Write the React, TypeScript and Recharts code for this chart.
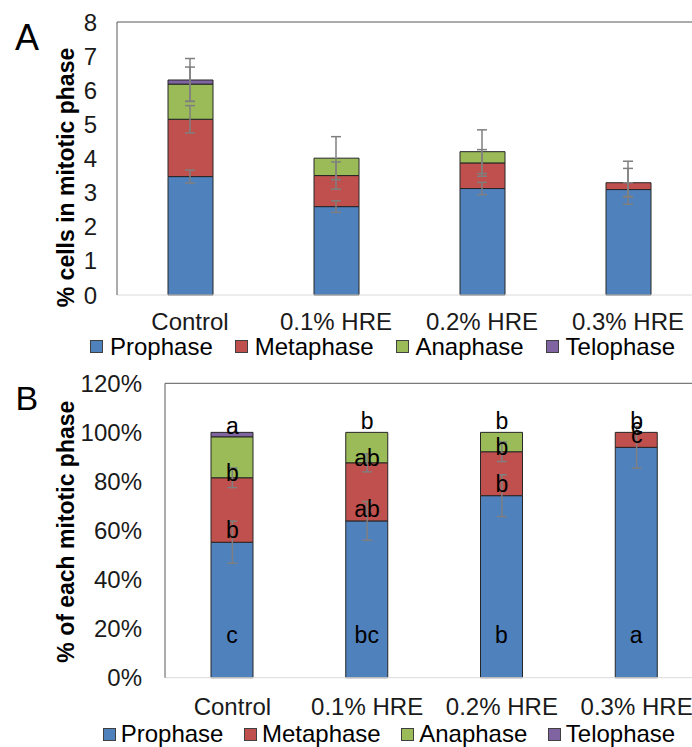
import { ComposedChart, Bar, Line, XAxis, YAxis, Legend, ReferenceLine, ErrorBar, LabelList, Label } from 'recharts';

const FONT = '"Liberation Sans", Arial, sans-serif';

const COLORS = {
  prophase: '#4F81BD',
  metaphase: '#C0504D',
  anaphase: '#9BBB59',
  telophase: '#8064A2',
};

const phaseNames = ['Prophase', 'Metaphase', 'Anaphase', 'Telophase'];
const categories = ['Control', '0.1% HRE', '0.2% HRE', '0.3% HRE'];

// Panel A: % cells in mitotic phase
const cellsProphase = [3.47, 2.59, 3.12, 3.09];
const cellsMetaphase = [1.68, 0.91, 0.75, 0.2];
const cellsAnaphase = [1.03, 0.51, 0.33, 0];
const cellsTelophase = [0.12, 0, 0, 0];
const cellsErrProphase = [0.19, 0.17, 0.18, 0.2];
const cellsErrMetaphase = [0.4, 0.4, 0.39, 0.42];
const cellsErrAnaphase = [0.5, 0.63, 0.64, 0.63];
const cellsErrTelophase = [0.63, 0, 0, 0];
const ticksA = [0, 1, 2, 3, 4, 5, 6, 7, 8];

// Panel B: % of each mitotic phase
const shareProphase = [55.2, 63.9, 74.2, 93.9];
const shareMetaphase = [26.3, 23.7, 17.9, 6.1];
const shareAnaphase = [16.7, 12.4, 7.9, 0];
const shareTelophase = [1.8, 0, 0, 0];
const shareErrProphase = [8.6, 7.9, 8.5, 8.5];
const shareErrMetaphase = [4, 3.7, 4, 0];
const lettersProphase = ['c', 'bc', 'b', 'a'];
const lettersMetaphase = ['b', 'ab', 'b', 'c'];
const lettersAnaphase = ['b', 'ab', 'b', 'c'];
const lettersTelophase = ['a', 'b', 'b', 'b'];
const ticksB = [0, 20, 40, 60, 80, 100, 120];

const nz = (v: number) => (v ? v : null);

const dataA = categories.map((name, i) => {
  const c1 = cellsProphase[i];
  const c2 = c1 + cellsMetaphase[i];
  const c3 = c2 + cellsAnaphase[i];
  const c4 = c3 + cellsTelophase[i];
  return {
    name,
    pro: cellsProphase[i],
    meta: cellsMetaphase[i],
    ana: cellsAnaphase[i],
    telo: cellsTelophase[i],
    c1, c2, c3, c4,
    e1: nz(cellsErrProphase[i]),
    e2: nz(cellsErrMetaphase[i]),
    e3: nz(cellsErrAnaphase[i]),
    e4: nz(cellsErrTelophase[i]),
  };
});

const dataB = categories.map((name, i) => {
  const c1 = shareProphase[i];
  const c2 = c1 + shareMetaphase[i];
  const c3 = c2 + shareAnaphase[i];
  return {
    name,
    pro: shareProphase[i],
    meta: shareMetaphase[i],
    ana: shareAnaphase[i],
    telo: shareTelophase[i],
    c1, c2, c3,
    e1: nz(shareErrProphase[i]),
    e2: nz(shareErrMetaphase[i]),
    lPro: lettersProphase[i],
    lMeta: lettersMetaphase[i],
    lAna: lettersAnaphase[i],
    lTelo: lettersTelophase[i],
  };
});

const tickStyle = { fontSize: 24, fill: '#1a1a1a', fontFamily: FONT };

const makeLegend = (iconGap: number, itemGap: number) => (props: any) => {
  const items = (props.payload || [])
    .filter((p: any) => phaseNames.includes(p.value))
    .sort((a: any, b: any) => phaseNames.indexOf(a.value) - phaseNames.indexOf(b.value));
  return (
    <div style={{ display: 'flex', alignItems: 'center', fontSize: 24, lineHeight: '24px', fontFamily: FONT, color: '#000', whiteSpace: 'nowrap' }}>
      {items.map((p: any, i: number) => (
        <div key={p.value} style={{ display: 'flex', alignItems: 'center', marginRight: i < items.length - 1 ? itemGap : 0 }}>
          <span style={{ display: 'inline-block', width: 11, height: 11, background: p.color, border: '1px solid #404040', marginRight: iconGap }} />
          <span>{p.value}</span>
        </div>
      ))}
    </div>
  );
};

// prophase letter sits low inside the bar
const barLetter = (lift: number) => (props: any) => {
  const { x, y, width, height, value } = props;
  if (value == null || x == null) return null;
  return (
    <text x={x + width / 2} y={y + height - lift} textAnchor="middle" fontSize={23} fontFamily={FONT} fill="#000">
      {value}
    </text>
  );
};

// other letters sit at the base of their segment (= top of the stack below)
const baseLetter = (lift: number) => (props: any) => {
  const { x, y, value } = props;
  if (value == null || x == null) return null;
  return (
    <text x={x} y={y - lift} textAnchor="middle" fontSize={23} fontFamily={FONT} fill="#000">
      {value}
    </text>
  );
};

const axisTitle = (text: string, cx: number, cy: number) => () => (
  <text
    x={cx}
    y={cy}
    transform={`rotate(-90 ${cx} ${cy})`}
    textAnchor="middle"
    dominantBaseline="central"
    fontSize={23}
    fontWeight="bold"
    fontFamily={FONT}
    fill="#000"
  >
    {text}
  </text>
);

const errProps = { stroke: '#7f7f7f', strokeWidth: 1.5, width: 5 };

export default function App() {
  return (
    <div style={{ position: 'absolute', left: 0, top: 0, width: 692, height: 747, overflow: 'hidden', background: '#fff', fontFamily: FONT }}>
      <div style={{ position: 'absolute', left: 0, top: 0 }}>
        <ComposedChart width={720} height={375} data={dataA} margin={{ top: 22, right: 19, left: 0, bottom: 40 }}>
          <XAxis
            dataKey="name"
            height={40}
            tick={tickStyle}
            tickLine={false}
            tickSize={0}
            tickMargin={18}
            axisLine={{ stroke: '#d9d9d9' }}
            interval={0}
          />
          <YAxis
            width={117}
            domain={[0, 8]}
            ticks={ticksA}
            interval={0}
            tick={tickStyle}
            tickLine={false}
            tickSize={0}
            tickMargin={20}
            axisLine={{ stroke: '#595959' }}
          >
            <Label content={axisTitle('% cells in mitotic phase', 66, 177.5)} />
          </YAxis>
          <ReferenceLine y={8} stroke="#595959" />
          <Legend
            layout="vertical"
            verticalAlign="middle"
            align="center"
            content={makeLegend(7, 22)}
            wrapperStyle={{ left: 90, top: 334.7, width: 620 }}
          />
          <Bar dataKey="pro" name="Prophase" stackId="a" fill={COLORS.prophase} stroke="#262626" strokeWidth={1} barSize={45} isAnimationActive={false} />
          <Bar dataKey="meta" name="Metaphase" stackId="a" fill={COLORS.metaphase} stroke="#262626" strokeWidth={1} barSize={45} isAnimationActive={false} />
          <Bar dataKey="ana" name="Anaphase" stackId="a" fill={COLORS.anaphase} stroke="#262626" strokeWidth={1} barSize={45} isAnimationActive={false} />
          <Bar dataKey="telo" name="Telophase" stackId="a" fill={COLORS.telophase} stroke="#262626" strokeWidth={1} barSize={45} isAnimationActive={false} />
          <Line dataKey="c1" stroke="none" dot={false} activeDot={false} legendType="none" isAnimationActive={false}>
            <ErrorBar dataKey="e1" direction="y" {...errProps} />
          </Line>
          <Line dataKey="c2" stroke="none" dot={false} activeDot={false} legendType="none" isAnimationActive={false}>
            <ErrorBar dataKey="e2" direction="y" {...errProps} />
          </Line>
          <Line dataKey="c3" stroke="none" dot={false} activeDot={false} legendType="none" isAnimationActive={false}>
            <ErrorBar dataKey="e3" direction="y" {...errProps} />
          </Line>
          <Line dataKey="c4" stroke="none" dot={false} activeDot={false} legendType="none" isAnimationActive={false}>
            <ErrorBar dataKey="e4" direction="y" {...errProps} />
          </Line>
        </ComposedChart>
      </div>

      <div style={{ position: 'absolute', left: 0, top: 360 }}>
        <ComposedChart width={720} height={387} data={dataB} margin={{ top: 23.3, right: 16, left: 0, bottom: 29.3 }}>
          <XAxis
            dataKey="name"
            height={40}
            tick={tickStyle}
            tickLine={false}
            tickSize={0}
            tickMargin={20}
            axisLine={{ stroke: '#d9d9d9' }}
            interval={0}
          />
          <YAxis
            width={165}
            domain={[0, 120]}
            ticks={ticksB}
            interval={0}
            tick={tickStyle}
            tickLine={false}
            tickSize={0}
            tickMargin={23}
            tickFormatter={(v: number) => `${v}%`}
            axisLine={{ stroke: '#595959' }}
          >
            <Label content={axisTitle('% of each mitotic phase', 66, 171.7)} />
          </YAxis>
          <ReferenceLine y={120} stroke="#595959" />
          <Legend
            layout="vertical"
            verticalAlign="middle"
            align="center"
            content={makeLegend(5, 20.5)}
            wrapperStyle={{ left: 102.7, top: 362, width: 610 }}
          />
          <Bar dataKey="pro" name="Prophase" stackId="b" fill={COLORS.prophase} stroke="#262626" strokeWidth={1} barSize={42} isAnimationActive={false}>
            <LabelList dataKey="lPro" content={barLetter(35)} />
          </Bar>
          <Bar dataKey="meta" name="Metaphase" stackId="b" fill={COLORS.metaphase} stroke="#262626" strokeWidth={1} barSize={42} isAnimationActive={false} />
          <Bar dataKey="ana" name="Anaphase" stackId="b" fill={COLORS.anaphase} stroke="#262626" strokeWidth={1} barSize={42} isAnimationActive={false} />
          <Bar dataKey="telo" name="Telophase" stackId="b" fill={COLORS.telophase} stroke="#262626" strokeWidth={1} barSize={42} isAnimationActive={false} />
          <Line dataKey="c1" stroke="none" dot={false} activeDot={false} legendType="none" isAnimationActive={false}>
            <ErrorBar dataKey="e1" direction="y" {...errProps} />
            <LabelList dataKey="lMeta" content={baseLetter(4)} />
          </Line>
          <Line dataKey="c2" stroke="none" dot={false} activeDot={false} legendType="none" isAnimationActive={false}>
            <ErrorBar dataKey="e2" direction="y" {...errProps} />
            <LabelList dataKey="lAna" content={baseLetter(-3)} />
          </Line>
          <Line dataKey="c3" stroke="none" dot={false} activeDot={false} legendType="none" isAnimationActive={false}>
            <LabelList dataKey="lTelo" content={baseLetter(3)} />
          </Line>
        </ComposedChart>
      </div>

      <div style={{ position: 'absolute', left: 15, top: 19.5, fontSize: 36, lineHeight: '36px', color: '#000' }}>A</div>
      <div style={{ position: 'absolute', left: 15.6, top: 381.2, fontSize: 34, lineHeight: '34px', color: '#000' }}>B</div>
    </div>
  );
}
